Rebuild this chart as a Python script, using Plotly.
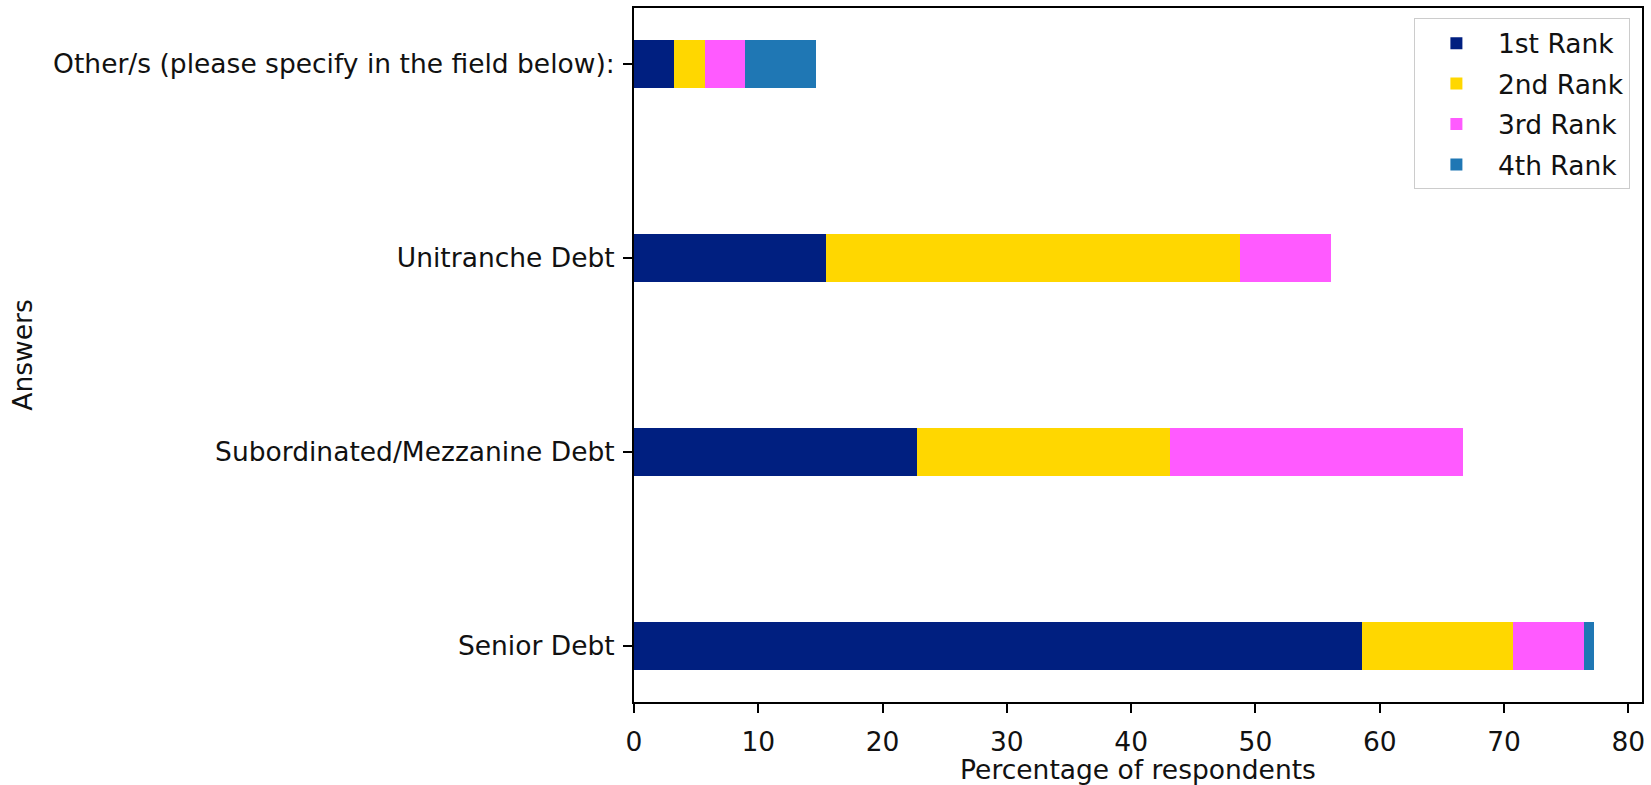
import plotly.graph_objects as go

categories = ["Senior Debt", "Subordinated/Mezzanine Debt", "Unitranche Debt",
              "Other/s (please specify in the field below):"]
series_names = ["1st Rank", "2nd Rank", "3rd Rank", "4th Rank"]
rank1 = [58.54, 22.76, 15.45, 3.25]
rank2 = [12.20, 20.33, 33.33, 2.44]
rank3 = [5.69, 23.58, 7.32, 3.25]
rank4 = [0.81, 0.0, 0.0, 5.69]
x_ticks = [0, 10, 20, 30, 40, 50, 60, 70, 80]

colors = ["#001F80", "#FFD700", "#FF5AFF", "#1F77B4"]
series = [rank1, rank2, rank3, rank4]

ypos = list(range(len(categories)))

fig = go.Figure()
for name, vals, col in zip(series_names, series, colors):
    fig.add_trace(go.Bar(
        x=vals, y=ypos, orientation="h", name=name, width=0.25,
        legendgroup=name,
        marker=dict(color=col, line=dict(width=0)),
    ))

font_family = "DejaVu Sans, Verdana, sans-serif"
fig.update_layout(
    barmode="stack",
    width=1651, height=785,
    margin=dict(l=634, r=6, t=8, b=81),
    paper_bgcolor="white", plot_bgcolor="white",
    font=dict(family=font_family, size=26.5, color="#111111"),
    showlegend=True,
    legend=dict(
        x=0.988, y=0.985, xanchor="right", yanchor="top",
        bgcolor="rgba(255,255,255,0.8)", bordercolor="#CCCCCC", borderwidth=1,
        font=dict(size=26.5), traceorder="grouped", tracegroupgap=3,
        itemwidth=73,
    ),
    xaxis=dict(
        range=[0, 81.1], tickvals=x_ticks, ticktext=[str(t) for t in x_ticks],
        showgrid=False, zeroline=False, showline=True, linecolor="black",
        linewidth=2, mirror=True, ticks="outside", ticklen=9, tickwidth=2,
        tickcolor="black", ticklabelstandoff=6,
        title=dict(text="Percentage of respondents", standoff=4,
                   font=dict(size=26.5)),
    ),
    yaxis=dict(
        range=[-0.2875, 3.2875], tickvals=ypos, ticktext=categories,
        showgrid=False, zeroline=False, showline=True, linecolor="black",
        linewidth=2, mirror=True, ticks="outside", ticklen=9, tickwidth=2,
        tickcolor="black", ticklabelstandoff=3,
        title=dict(text="Answers", standoff=13, font=dict(size=26.5)),
    ),
)

fig.write_html("out.html")
